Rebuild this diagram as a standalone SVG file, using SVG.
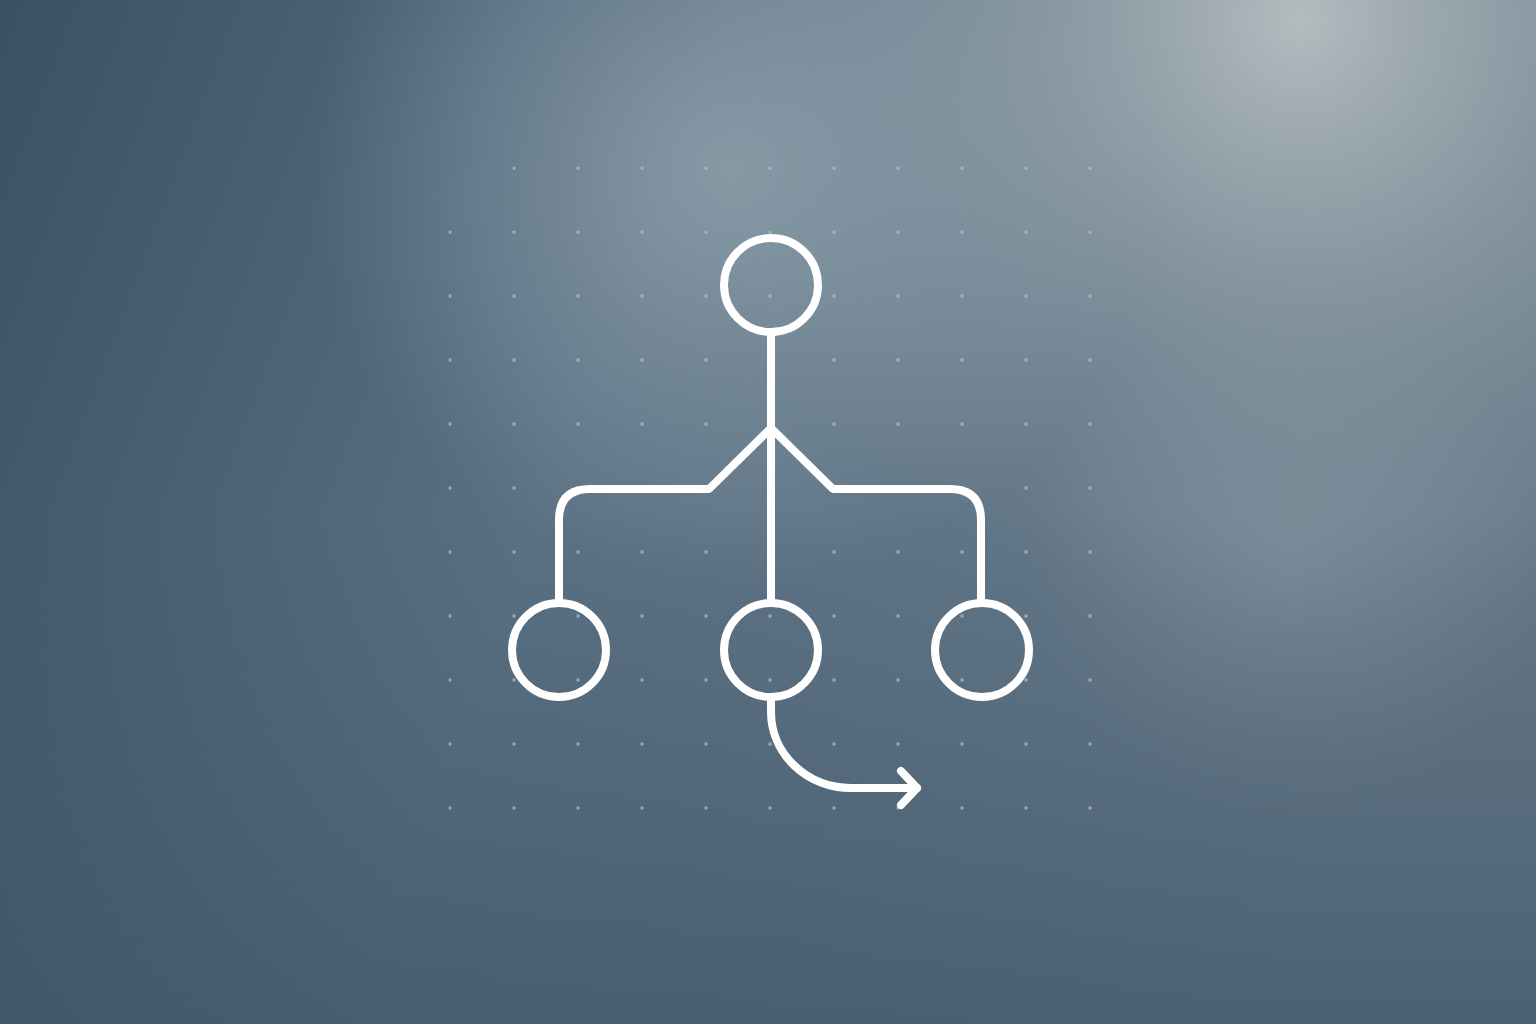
<svg xmlns="http://www.w3.org/2000/svg" width="1536" height="1024" viewBox="0 0 1536 1024">
<defs>
<linearGradient id="bg" x1="0" y1="0" x2="1" y2="0.25">
<stop offset="0" stop-color="#3a5064"/>
<stop offset="0.45" stop-color="#5a7083"/>
<stop offset="1" stop-color="#667a88"/>
</linearGradient>
<radialGradient id="glow1" cx="1300" cy="20" r="620" gradientUnits="userSpaceOnUse">
<stop offset="0" stop-color="#b8bfc1" stop-opacity="0.95"/>
<stop offset="0.5" stop-color="#9caab1" stop-opacity="0.5"/>
<stop offset="1" stop-color="#8a9aa5" stop-opacity="0"/>
</radialGradient>
<radialGradient id="glow2" cx="730" cy="170" r="420" gradientUnits="userSpaceOnUse">
<stop offset="0" stop-color="#91a4ae" stop-opacity="0.8"/>
<stop offset="1" stop-color="#91a4ae" stop-opacity="0"/>
</radialGradient>
<linearGradient id="shade" x1="0" y1="0" x2="0" y2="1">
<stop offset="0.5" stop-color="#3a5064" stop-opacity="0"/>
<stop offset="1" stop-color="#3a5064" stop-opacity="0.6"/>
</linearGradient>
<radialGradient id="glow3" cx="1290" cy="560" r="260" gradientUnits="userSpaceOnUse">
<stop offset="0" stop-color="#8a9aa5" stop-opacity="0.55"/>
<stop offset="1" stop-color="#8a9aa5" stop-opacity="0"/>
</radialGradient>
<pattern id="dots" x="448.5" y="166.5" width="64" height="64" patternUnits="userSpaceOnUse">
<rect x="0" y="0" width="3" height="3" fill="#b8c6d0" fill-opacity="0.7"/>
</pattern>
</defs>
<style>
.ln{fill:none;stroke:#ffffff;stroke-width:8;stroke-linecap:round;stroke-linejoin:round}
.node{fill:none;stroke:#ffffff;stroke-width:8}
</style>
<rect width="1536" height="1024" fill="url(#bg)"/>
<rect width="1536" height="1024" fill="url(#glow2)"/>
<rect width="1536" height="1024" fill="url(#glow1)"/>
<rect width="1536" height="1024" fill="url(#glow3)"/>
<rect width="1536" height="1024" fill="url(#shade)"/>
<g id="grid">
<rect x="448.5" y="230.5" width="646" height="582" fill="url(#dots)"/>
<rect x="512.5" y="166.5" width="582" height="6" fill="url(#dots)"/>
</g>
<g id="connectors">
<path class="ln" d="M771,335 L771,600"/>
<path class="ln" d="M771,428 L709,489 L590,489 Q559,489 559,520 L559,601"/>
<path class="ln" d="M771,428 L833,489 L950,489 Q981,489 981,520 L981,601"/>
<path class="ln" d="M771,701 L771,712 A80,76 0 0 0 851,788 L917,788"/>
<path class="ln" d="M901,771 L917,788 L901,805"/>
</g>
<g id="node-root"><circle class="node" cx="771" cy="285" r="47"/></g>
<g id="node-left"><circle class="node" cx="559" cy="650" r="47"/></g>
<g id="node-middle"><circle class="node" cx="771" cy="650" r="47"/></g>
<g id="node-right"><circle class="node" cx="982" cy="650" r="47"/></g>
</svg>
